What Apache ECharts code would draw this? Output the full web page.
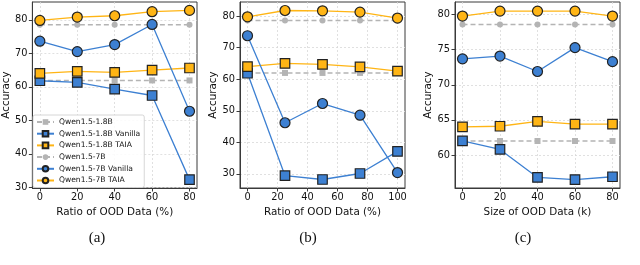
<!DOCTYPE html>
<html><head><meta charset="utf-8">
<script src="https://cdn.jsdelivr.net/npm/echarts@6/dist/echarts.min.js"></script>
<style>html,body{margin:0;padding:0;background:#fff}#c{width:640px;height:265px}</style>
</head><body><div id="c"></div>
<script>
// ---- data ----
var seriesNames = ['Qwen1.5-1.8B','Qwen1.5-1.8B Vanilla','Qwen1.5-1.8B TAIA','Qwen1.5-7B','Qwen1.5-7B Vanilla','Qwen1.5-7B TAIA'];
var panelTitles = ['(a)','(b)','(c)'];
var xLabels = ['Ratio of OOD Data (%)','Ratio of OOD Data (%)','Size of OOD Data (k)'];

var xA = [0,20,40,60,80];
var a_base18 = [61.9,61.9,61.9,61.9,61.9];
var a_van18  = [61.8,61.3,59.3,57.4,32.3];
var a_taia18 = [64.0,64.6,64.3,65.0,65.6];
var a_base7  = [78.5,78.5,78.5,78.5,78.5];
var a_van7   = [73.6,70.5,72.6,78.6,52.7];
var a_taia7  = [79.8,80.8,81.2,82.4,82.8];

var xB = [0,25,50,75,100];
var b_base18 = [62.0,62.0,62.0,62.0,62.0];
var b_van18  = [61.9,29.4,28.2,30.1,37.1];
var b_taia18 = [64.0,65.0,64.7,63.9,62.6];
var b_base7  = [78.6,78.6,78.6,78.6,78.6];
var b_van7   = [73.8,46.2,52.3,48.6,30.4];
var b_taia7  = [79.8,81.8,81.7,81.3,79.4];

var xC = [0,20,40,60,80];
var c_base18 = [62.0,62.0,62.0,62.0,62.0];
var c_van18  = [62.0,60.8,56.8,56.5,56.9];
var c_taia18 = [64.0,64.1,64.8,64.4,64.4];
var c_base7  = [78.6,78.6,78.6,78.6,78.6];
var c_van7   = [73.7,74.1,71.9,75.3,73.3];
var c_taia7  = [79.8,80.5,80.5,80.5,79.8];

var xTicksA = [0,20,40,60,80];
var xTicksB = [0,20,40,60,80,100];
var xTicksC = [0,20,40,60,80];
var yTicksA = [30,40,50,60,70,80];
var yTicksB = [30,40,50,60,70,80];
var yTicksC = [60,65,70,75,80];

// ---- layout ----
var grids = [
  {left:31, top:2, width:166, height:186},
  {left:240, top:2, width:165, height:186},
  {left:455, top:2, width:165, height:186}
];
var titleX = [97, 308, 523];
var xRanges = [[-4,84],[-5,105],[-4,84]];
var yRanges = [[29.8,85.3],[25.5,84.5],[55.3,81.8]];
var xTicks = [xTicksA,xTicksB,xTicksC];
var yTicks = [yTicksA,yTicksB,yTicksC];
var xs = [xA,xB,xC];
var panels = [
  [a_base18,a_van18,a_taia18,a_base7,a_van7,a_taia7],
  [b_base18,b_van18,b_taia18,b_base7,b_van7,b_taia7],
  [c_base18,c_van18,c_taia18,c_base7,c_van7,c_taia7]
];

var BLUE = '#3d80d2', ORANGE = '#ffb515', GRAY = '#b4b4b4';
var FONT = 'DejaVu Sans';
var styles = [
  {color:GRAY, symbol:'rect', size:6, dash:[5,3], border:GRAY, bw:0, lw:1.5},
  {color:BLUE, symbol:'rect', size:9.5, dash:'solid', border:'#222', bw:1.2, lw:1.3},
  {color:ORANGE, symbol:'rect', size:9.5, dash:'solid', border:'#222', bw:1.2, lw:1.3},
  {color:GRAY, symbol:'circle', size:6, dash:[5,3], border:GRAY, bw:0, lw:1.5},
  {color:BLUE, symbol:'circle', size:10, dash:'solid', border:'#222', bw:1.2, lw:1.3},
  {color:ORANGE, symbol:'circle', size:10, dash:'solid', border:'#222', bw:1.2, lw:1.3}
];

var xAxes = [], yAxes = [], series = [], graphics = [];
for (var p = 0; p < 3; p++) {
  grids[p].show = true; grids[p].borderColor = '#3a3a3a'; grids[p].borderWidth = 1; grids[p].backgroundColor = 'transparent';
  xAxes.push({
    type:'value', gridIndex:p, min:xRanges[p][0], max:xRanges[p][1],
    name:xLabels[p], nameLocation:'middle', nameGap:15,
    nameTextStyle:{fontFamily:FONT, fontSize:10.4, color:'#111'},
    axisLine:{show:true, onZero:false, lineStyle:{color:'#3a3a3a', width:1}},
    axisTick:{show:true, length:3.5, customValues:xTicks[p], lineStyle:{color:'#3a3a3a'}},
    axisLabel:{customValues:xTicks[p], fontFamily:FONT, fontSize:9.8, color:'#111', margin:4},
    splitLine:{show:true, lineStyle:{color:'#d9d9d9', type:[2,2], width:0.8}}
  });
  yAxes.push({
    type:'value', gridIndex:p, min:yRanges[p][0], max:yRanges[p][1],
    name:'Accuracy', nameLocation:'middle', nameGap:20, nameRotate:90,
    nameTextStyle:{fontFamily:FONT, fontSize:10.4, color:'#111'},
    axisLine:{show:true, onZero:false, lineStyle:{color:'#3a3a3a', width:1}},
    axisTick:{show:true, length:3.5, customValues:yTicks[p], lineStyle:{color:'#3a3a3a'}},
    axisLabel:{customValues:yTicks[p], fontFamily:FONT, fontSize:9.8, color:'#111', margin:5},
    splitLine:{show:true, lineStyle:{color:'#d9d9d9', type:[2,2], width:0.8}}
  });
  for (var s = 0; s < 6; s++) {
    var st = styles[s];
    var d = [];
    for (var i = 0; i < xs[p].length; i++) d.push([xs[p][i], panels[p][s][i]]);
    series.push({
      type:'line', name:seriesNames[s], xAxisIndex:p, yAxisIndex:p, data:d,
      symbol:st.symbol, symbolSize:st.size, showAllSymbol:true,
      lineStyle:{color:st.color, width:st.lw, type:st.dash},
      itemStyle:{color:st.color, borderColor:st.border, borderWidth:st.bw},
      z: 2 + s, animation:false, silent:true
    });
  }
  graphics.push({
    type:'text', x: titleX[p], y: 238,
    style:{text:panelTitles[p], font:'15px "Liberation Serif"', fill:'#111', textAlign:'center', textVerticalAlign:'middle'}
  });
}

var chart = echarts.init(document.getElementById('c'), null, {renderer:'canvas'});
chart.setOption({
  animation:false,
  grid:grids, xAxis:xAxes, yAxis:yAxes, series:series,
  legend:{
    show:true, orient:'vertical', left:33, top:115, data:seriesNames,
    itemWidth:17, itemHeight:7, itemGap:3.7,
    textStyle:{fontFamily:FONT, fontSize:7.6, color:'#111'},
    backgroundColor:'rgba(255,255,255,0.85)', borderColor:'#cccccc', borderWidth:0.8, borderRadius:2,
    padding:[3,4,3,3], selectedMode:false
  },
  graphic:graphics
});
</script></body></html>
